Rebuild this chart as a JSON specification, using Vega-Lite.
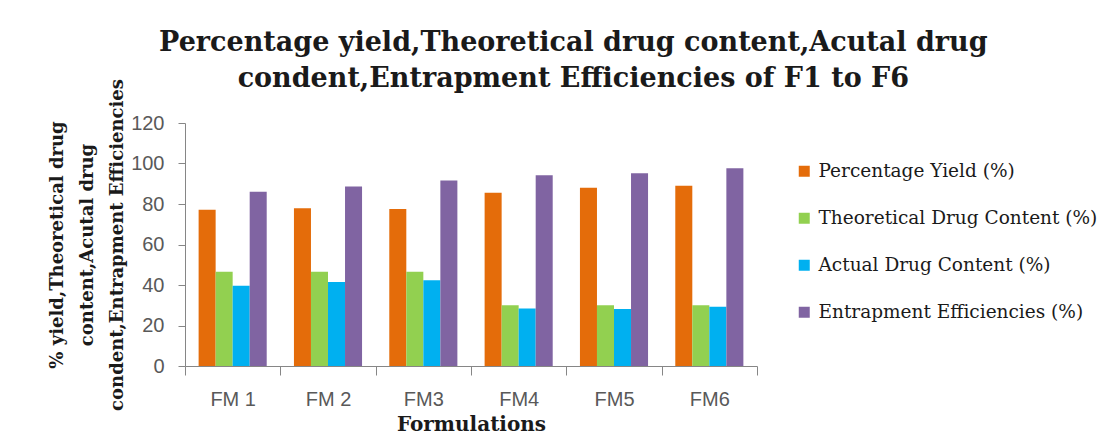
{
  "$schema": "https://vega.github.io/schema/vega-lite/v6.json",
  "autosize": {"type": "none"},
  "width": 572,
  "height": 243,
  "padding": {"left": 185, "top": 123, "right": 362, "bottom": 71},
  "background": "#ffffff",
  "title": {
    "text": ["Percentage yield,Theoretical drug content,Acutal drug", "condent,Entrapment Efficiencies of F1 to F6"],
    "font": "DejaVu Serif",
    "fontSize": 27,
    "fontWeight": "bold",
    "color": "#1a1a1a",
    "lineHeight": 36,
    "anchor": "middle",
    "frame": "bounds",
    "offset": 22,
    "dy": 36
  },
  "data": {
    "values": [
      {"formulation": "FM 1", "series": "Percentage Yield (%)", "value": 77.1},
      {"formulation": "FM 1", "series": "Theoretical Drug Content (%)", "value": 46.5},
      {"formulation": "FM 1", "series": "Actual Drug Content (%)", "value": 39.6},
      {"formulation": "FM 1", "series": "Entrapment Efficiencies (%)", "value": 86.1},
      {"formulation": "FM 2", "series": "Percentage Yield (%)", "value": 77.9},
      {"formulation": "FM 2", "series": "Theoretical Drug Content (%)", "value": 46.5},
      {"formulation": "FM 2", "series": "Actual Drug Content (%)", "value": 41.5},
      {"formulation": "FM 2", "series": "Entrapment Efficiencies (%)", "value": 88.6},
      {"formulation": "FM3", "series": "Percentage Yield (%)", "value": 77.5},
      {"formulation": "FM3", "series": "Theoretical Drug Content (%)", "value": 46.5},
      {"formulation": "FM3", "series": "Actual Drug Content (%)", "value": 42.4},
      {"formulation": "FM3", "series": "Entrapment Efficiencies (%)", "value": 91.6},
      {"formulation": "FM4", "series": "Percentage Yield (%)", "value": 85.6},
      {"formulation": "FM4", "series": "Theoretical Drug Content (%)", "value": 30.0},
      {"formulation": "FM4", "series": "Actual Drug Content (%)", "value": 28.4},
      {"formulation": "FM4", "series": "Entrapment Efficiencies (%)", "value": 94.2},
      {"formulation": "FM5", "series": "Percentage Yield (%)", "value": 88.0},
      {"formulation": "FM5", "series": "Theoretical Drug Content (%)", "value": 30.0},
      {"formulation": "FM5", "series": "Actual Drug Content (%)", "value": 28.2},
      {"formulation": "FM5", "series": "Entrapment Efficiencies (%)", "value": 95.2},
      {"formulation": "FM6", "series": "Percentage Yield (%)", "value": 89.0},
      {"formulation": "FM6", "series": "Theoretical Drug Content (%)", "value": 30.0},
      {"formulation": "FM6", "series": "Actual Drug Content (%)", "value": 29.3},
      {"formulation": "FM6", "series": "Entrapment Efficiencies (%)", "value": 97.7}
    ]
  },
  "mark": {"type": "bar"},
  "encoding": {
    "x": {
      "field": "formulation",
      "type": "nominal",
      "sort": ["FM 1", "FM 2", "FM3", "FM4", "FM5", "FM6"],
      "scale": {"paddingInner": 0, "paddingOuter": 0},
      "axis": {
        "title": "Formulations",
        "titleFont": "DejaVu Serif",
        "titleFontSize": 20,
        "titleFontWeight": "bold",
        "titleColor": "#1a1a1a",
        "titlePadding": 5,
        "labelAngle": 0,
        "labelFont": "Liberation Sans",
        "labelFontSize": 20,
        "labelColor": "#595959",
        "labelPadding": 14,
        "tickBand": "extent",
        "tickSize": 9,
        "tickColor": "#868686",
        "domainColor": "#868686",
        "grid": false
      }
    },
    "xOffset": {
      "field": "series",
      "type": "nominal",
      "sort": ["Percentage Yield (%)", "Theoretical Drug Content (%)", "Actual Drug Content (%)", "Entrapment Efficiencies (%)"],
      "scale": {"paddingInner": 0, "paddingOuter": 0.8}
    },
    "y": {
      "field": "value",
      "type": "quantitative",
      "scale": {"domain": [0, 120], "nice": false},
      "axis": {
        "values": [0, 20, 40, 60, 80, 100, 120],
        "grid": false,
        "title": ["% yield,Theoretical drug", "content,Acutal drug", "condent,Entrapment Efficiencies"],
        "titleFont": "DejaVu Serif",
        "titleFontSize": 18,
        "titleFontWeight": "bold",
        "titleColor": "#1a1a1a",
        "titleLineHeight": 30,
        "titlePadding": 4,
        "labelFont": "Liberation Sans",
        "labelFontSize": 20,
        "labelColor": "#595959",
        "labelPadding": 14,
        "tickSize": 7,
        "tickColor": "#868686",
        "domainColor": "#868686"
      }
    },
    "color": {
      "field": "series",
      "type": "nominal",
      "scale": {
        "domain": ["Percentage Yield (%)", "Theoretical Drug Content (%)", "Actual Drug Content (%)", "Entrapment Efficiencies (%)"],
        "range": ["#E46C0A", "#92D050", "#00B0F0", "#8064A2"]
      },
      "legend": {
        "title": null,
        "orient": "none",
        "legendX": 610,
        "legendY": 39,
        "padding": 0,
        "symbolType": "square",
        "symbolSize": 121,
        "symbolStrokeWidth": 0,
        "labelFont": "DejaVu Serif",
        "labelFontSize": 18.5,
        "labelColor": "#1a1a1a",
        "labelOffset": 5,
        "rowPadding": 28,
        "labelLimit": 400
      }
    }
  },
  "config": {"view": {"stroke": null}}
}
